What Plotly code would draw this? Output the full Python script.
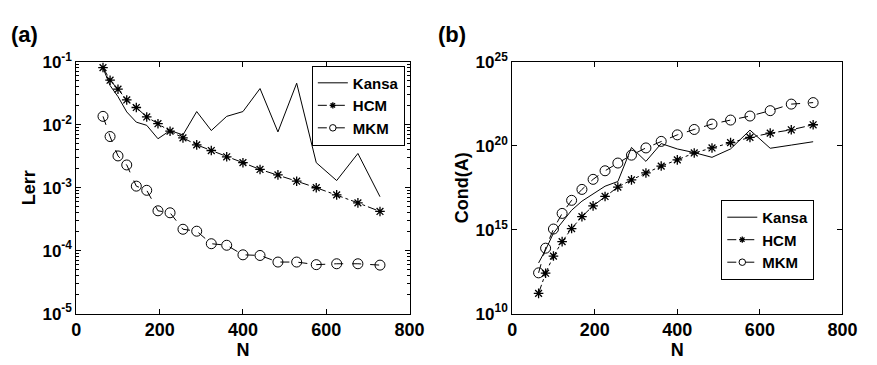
import plotly.graph_objects as go

N = [64, 81, 100, 121, 144, 169, 196, 225, 256, 289, 324, 361, 400, 441, 484, 529, 576, 625, 676, 729]

# (a) Lerr
lerr_kansa = [0.080, 0.042, 0.028, 0.016, 0.011, 0.0098, 0.0060, 0.0081, 0.0069, 0.0162,
              0.0081, 0.0136, 0.0162, 0.0376, 0.0077, 0.0457, 0.0025, 0.0013, 0.0035, 0.00072]
lerr_hcm = [0.081, 0.051, 0.0367, 0.0248, 0.0188, 0.0133, 0.0104, 0.0079, 0.0062, 0.0048,
            0.0039, 0.0031, 0.0025, 0.00195, 0.0016, 0.00127, 0.00100, 0.00077, 0.000575, 0.00042]
lerr_mkm = [0.0136, 0.0065, 0.0032, 0.0023, 0.00106, 0.00091, 0.00043, 0.00040, 0.000219, 0.000204,
            0.000129, 0.000122, 0.000086, 0.000084, 0.000066, 0.000066, 0.000060, 0.000062, 0.000062, 0.000059]

# (b) Cond(A), log10 values
cond_kansa_log = [13.02, 13.8, 14.8, 15.45, 16.16, 16.7, 17.15, 17.59, 17.87, 19.9,
                  19.07, 20.13, 19.81, 19.59, 19.31, 19.81, 20.93, 19.85, 20.04, 20.24]
cond_hcm_log = [11.21, 12.41, 13.43, 14.29, 15.07, 15.78, 16.42, 16.98, 17.54, 17.97,
                18.38, 18.79, 19.16, 19.57, 19.87, 20.19, 20.5, 20.75, 20.95, 21.25]
cond_mkm_log = [12.43, 13.9, 15.04, 15.97, 16.75, 17.4, 18.0, 18.51, 18.97, 19.44,
                19.87, 20.26, 20.65, 20.97, 21.29, 21.53, 21.77, 22.09, 22.48, 22.57]

names = ["Kansa", "HCM", "MKM"]
x_ticks = [0, 200, 400, 600, 800]
a_yticks = [1e-5, 1e-4, 1e-3, 1e-2, 1e-1]
a_ytext = ["10<sup>-5</sup>", "10<sup>-4</sup>", "10<sup>-3</sup>", "10<sup>-2</sup>", "10<sup>-1</sup>"]
b_yticks = [1e10, 1e15, 1e20, 1e25]
b_ytext = ["10<sup>10</sup>", "10<sup>15</sup>", "10<sup>20</sup>", "10<sup>25</sup>"]

FONT = "Liberation Sans, Arial, sans-serif"
W = "bold"

styles = [
    dict(mode="lines", line=dict(color="black", width=1)),
    dict(mode="lines+markers", line=dict(color="black", width=1, dash="dashdot"),
         symbol="asterisk-open", size=8, lw=1.3),
    dict(mode="lines+markers", line=dict(color="black", width=1, dash="dash"),
         symbol="circle-open", size=10, lw=1),
]

def marker(st, scale=1.0):
    if "symbol" not in st:
        return None
    return dict(symbol=st["symbol"], size=st["size"] * scale, color="black",
                line=dict(color="black", width=st["lw"]))

def series(fig, ys, xa, ya, leg):
    for name, y, st in zip(names, ys, styles):
        fig.add_trace(go.Scatter(x=N, y=y, mode=st["mode"], name=name, line=st["line"],
                                 marker=marker(st), xaxis=xa, yaxis=ya, showlegend=False))
    for name, st in zip(names, styles):
        fig.add_trace(go.Scatter(x=[None], y=[None], mode=st["mode"], name=name,
                                 line=st["line"], marker=marker(st, 0.65),
                                 xaxis=xa, yaxis=ya, legend=leg, showlegend=True))

fig = go.Figure()
series(fig, (lerr_kansa, lerr_hcm, lerr_mkm), "x", "y", "legend")
series(fig, ([10 ** v for v in cond_kansa_log], [10 ** v for v in cond_hcm_log],
             [10 ** v for v in cond_mkm_log]), "x2", "y2", "legend2")

ydom = [1 - 321 / 365, 1 - 53 / 365]
base = dict(showline=True, linecolor="black", linewidth=1, mirror="ticks",
            ticks="inside", ticklen=5, tickcolor="black", showgrid=False, zeroline=False)
xfont = dict(family=FONT, size=18, color="black", weight=W)
yfont = dict(family=FONT, size=17, color="black", weight=W)
tfont = dict(family=FONT, size=18, color="black", weight=W)
lfont = dict(family=FONT, size=15, color="black", weight=W)

fig.update_layout(
    width=877, height=365, margin=dict(l=0, r=0, t=0, b=0),
    paper_bgcolor="white", plot_bgcolor="white",
    font=dict(family=FONT, color="black"),
    xaxis=dict(domain=[73 / 877, 414 / 877], range=[0, 800], tickvals=x_ticks, anchor="y",
               tickfont=xfont, title=dict(text="N", font=tfont, standoff=0), **base),
    yaxis=dict(domain=ydom, type="log", range=[-5, -1], tickvals=a_yticks, ticktext=a_ytext,
               anchor="x", tickfont=yfont, title=dict(text="Lerr", font=tfont, standoff=2),
               minor=dict(ticks="inside", ticklen=3, tickcolor="black", dtick="D1", showgrid=False),
               **base),
    xaxis2=dict(domain=[519 / 877, 857 / 877], range=[0, 800], tickvals=x_ticks, anchor="y2",
                tickfont=xfont, title=dict(text="N", font=tfont, standoff=0), **base),
    yaxis2=dict(domain=ydom, type="log", range=[10, 25], tickvals=b_yticks, ticktext=b_ytext,
                anchor="x2", tickfont=yfont, title=dict(text="Cond(A)", font=tfont, standoff=2),
                **base),
    legend=dict(x=314 / 877, y=1 - 57 / 365, xanchor="left", yanchor="top",
                bgcolor="white", bordercolor="black", borderwidth=1,
                font=lfont, tracegroupgap=0, itemwidth=30),
    legend2=dict(x=733 / 877, y=1 - 200 / 365, xanchor="left", yanchor="top",
                 bgcolor="white", bordercolor="black", borderwidth=1,
                 font=lfont, tracegroupgap=0, itemwidth=30),
    annotations=[
        dict(text="<b>(a)</b>", x=4 / 877, y=1 - 8 / 365, xref="paper", yref="paper",
             xanchor="left", yanchor="top", showarrow=False, font=dict(family=FONT, size=22)),
        dict(text="<b>(b)</b>", x=441 / 877, y=1 - 8 / 365, xref="paper", yref="paper",
             xanchor="left", yanchor="top", showarrow=False, font=dict(family=FONT, size=22)),
    ],
)

fig.write_html("out.html")
